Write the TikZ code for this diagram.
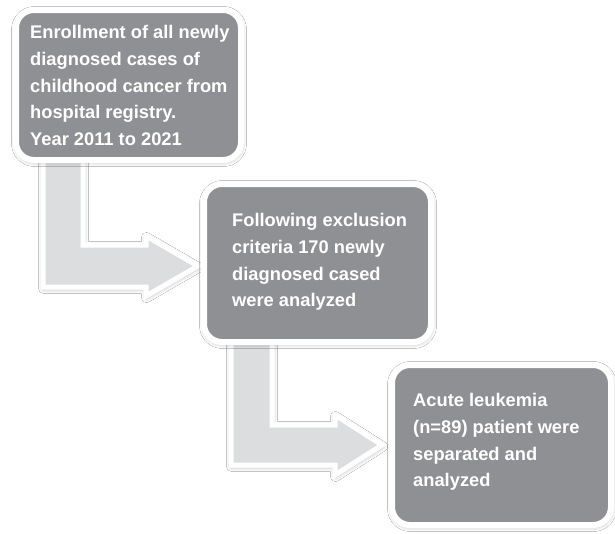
\documentclass[tikz,border=0pt]{standalone}
\usepackage{fontspec}
\setmainfont{Liberation Sans}
\usetikzlibrary{shadows.blur}
\definecolor{boxgray}{RGB}{143,144,147}
\definecolor{arrowgray}{RGB}{220,221,223}
\tikzset{
  softshadow/.style={blur shadow={shadow xshift=0.5pt, shadow yshift=-1.5pt, shadow blur radius=5pt, shadow opacity=35}},
  stepbox/.style={rectangle, rounded corners=18pt, fill=boxgray, draw=white, line width=6pt, softshadow, inner sep=0pt},
  boxtext/.style={anchor=north west, inner sep=0pt, align=left, text=white,
    font=\bfseries\fontsize{18.3}{26.8}\selectfont},
  bentarrow/.style={fill=arrowgray, draw=white, line width=5pt, line join=miter, softshadow}
}
\begin{document}
\begin{tikzpicture}[x=1pt,y=-1pt]
\useasboundingbox[fill=white] (0,0) rectangle (615,533);
% bent arrows (drawn first so that the boxes lie over their ends)
\filldraw[bentarrow] (43,150) -- (43,287) -- (146,287) -- (146,296) -- (198,266)
  -- (146,236) -- (146,245) -- (83,245) -- (83,150) -- cycle;
\filldraw[bentarrow] (231,335) -- (231,465) -- (335,465) -- (335,475) -- (382,445)
  -- (335,415) -- (335,425) -- (272,425) -- (272,335) -- cycle;
% boxes
\node[stepbox, minimum width=225pt, minimum height=150pt] (b1) at (128.5,85) {};
\node[stepbox, minimum width=227pt, minimum height=158pt] (b2) at (317.5,263) {};
\node[stepbox, minimum width=219pt, minimum height=160pt] (b3) at (501.5,445) {};
% texts
\node[boxtext] (t1) at (30,25) {Enrollment of all newly\\diagnosed cases of\\childhood cancer from\\hospital registry.\\Year 2011 to 2021};
\node[boxtext] (t2) at (232,213) {Following exclusion\\criteria 170 newly\\diagnosed cased\\were analyzed};
\node[boxtext] (t3) at (413,393) {Acute leukemia\\(n=89) patient were\\separated and\\analyzed};
\end{tikzpicture}
\end{document}
